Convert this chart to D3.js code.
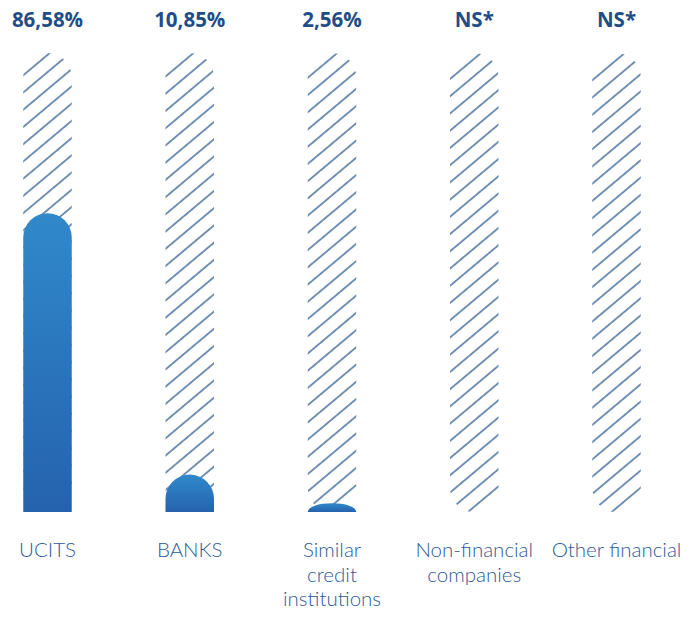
<!DOCTYPE html>
<html>
<head>
<meta charset="utf-8">
<script src="https://cdn.jsdelivr.net/npm/d3@7/dist/d3.min.js"></script>
<style>
  html, body { margin: 0; padding: 0; background: #ffffff; }
  svg { display: block; }
</style>
</head>
<body>
<svg id="chart" width="690" height="617"></svg>
<script>
// Share of holdings by type of holder
const categories = ["UCITS", "BANKS", "Similar credit institutions", "Non-financial companies", "Other financial"];
const categoryLines = [["UCITS"], ["BANKS"], ["Similar", "credit", "institutions"], ["Non-financial", "companies"], ["Other financial"]];
const values = [86.58, 10.85, 2.56, null, null];
const valueLabels = ["86,58%", "10,85%", "2,56%", "NS*", "NS*"];

const width = 690, height = 617;
const svg = d3.select("#chart");

const barWidth = 48.5;
const trackTop = 53, trackBottom = 512;

const x = d3.scalePoint().domain(categories).range([47.5, 616.5]);
const y = d3.scaleLinear().domain([0, 133]).range([trackBottom, trackTop]);

const defs = svg.append("defs");

// diagonal hatching for the background tracks
const hatch = defs.append("pattern")
  .attr("id", "hatch")
  .attr("patternUnits", "userSpaceOnUse")
  .attr("width", 10)
  .attr("height", 13.2)
  .attr("patternTransform", "rotate(-40)");
hatch.append("line")
  .attr("x1", -1).attr("x2", 11)
  .attr("y1", 6.6).attr("y2", 6.6)
  .attr("stroke", "#2b5890")
  .attr("stroke-width", 1.3);

// vertical gradient for the filled bars
const grad = defs.append("linearGradient")
  .attr("id", "barFill")
  .attr("x1", 0).attr("y1", 0).attr("x2", 0).attr("y2", 1);
grad.append("stop").attr("offset", "0%").attr("stop-color", "#3089ca");
grad.append("stop").attr("offset", "100%").attr("stop-color", "#2562ae");

const data = categories.map((c, i) => ({ c, v: values[i], label: valueLabels[i], lines: categoryLines[i] }));

// hatched tracks
svg.append("g").selectAll("rect")
  .data(data)
  .join("rect")
  .attr("x", d => x(d.c) - barWidth / 2)
  .attr("y", trackTop)
  .attr("width", barWidth)
  .attr("height", trackBottom - trackTop)
  .attr("rx", barWidth / 2)
  .attr("ry", barWidth / 2)
  .attr("fill", "url(#hatch)");

// filled bars with a rounded top, flat bottom
function barPath(d) {
  const r = barWidth / 2;
  const x0 = x(d.c) - r, x1 = x(d.c) + r;
  const h = trackBottom - y(d.v);
  if (h >= r) {
    const yt = y(d.v) + r;
    return `M${x0},${trackBottom}V${yt}A${r},${r} 0 0 1 ${x1},${yt}V${trackBottom}Z`;
  }
  return `M${x0},${trackBottom}A${r},${h} 0 0 1 ${x1},${trackBottom}Z`;
}

svg.append("g").selectAll("path")
  .data(data.filter(d => d.v != null))
  .join("path")
  .attr("d", barPath)
  .attr("fill", "url(#barFill)");

// value labels above each column
svg.append("g").selectAll("text")
  .data(data)
  .join("text")
  .attr("x", d => x(d.c))
  .attr("y", 27)
  .attr("text-anchor", "middle")
  .attr("font-family", "'Open Sans', sans-serif")
  .attr("font-weight", 700)
  .attr("font-size", 20.5)
  .attr("fill", "#1f4d88")
  .text(d => d.label);

// category labels below the columns
const catG = svg.append("g").selectAll("text")
  .data(data)
  .join("text")
  .attr("x", d => x(d.c))
  .attr("y", 557)
  .attr("text-anchor", "middle")
  .attr("font-family", "Lato, 'Open Sans', sans-serif")
  .attr("font-weight", 300)
  .attr("font-size", 20.5)
  .attr("fill", "#2d5b97");
catG.selectAll("tspan")
  .data(d => d.lines.map(l => ({ l, cx: x(d.c) })))
  .join("tspan")
  .attr("x", t => t.cx)
  .attr("dy", (t, i) => i === 0 ? 0 : 24.5)
  .text(t => t.l);
</script>
</body>
</html>
